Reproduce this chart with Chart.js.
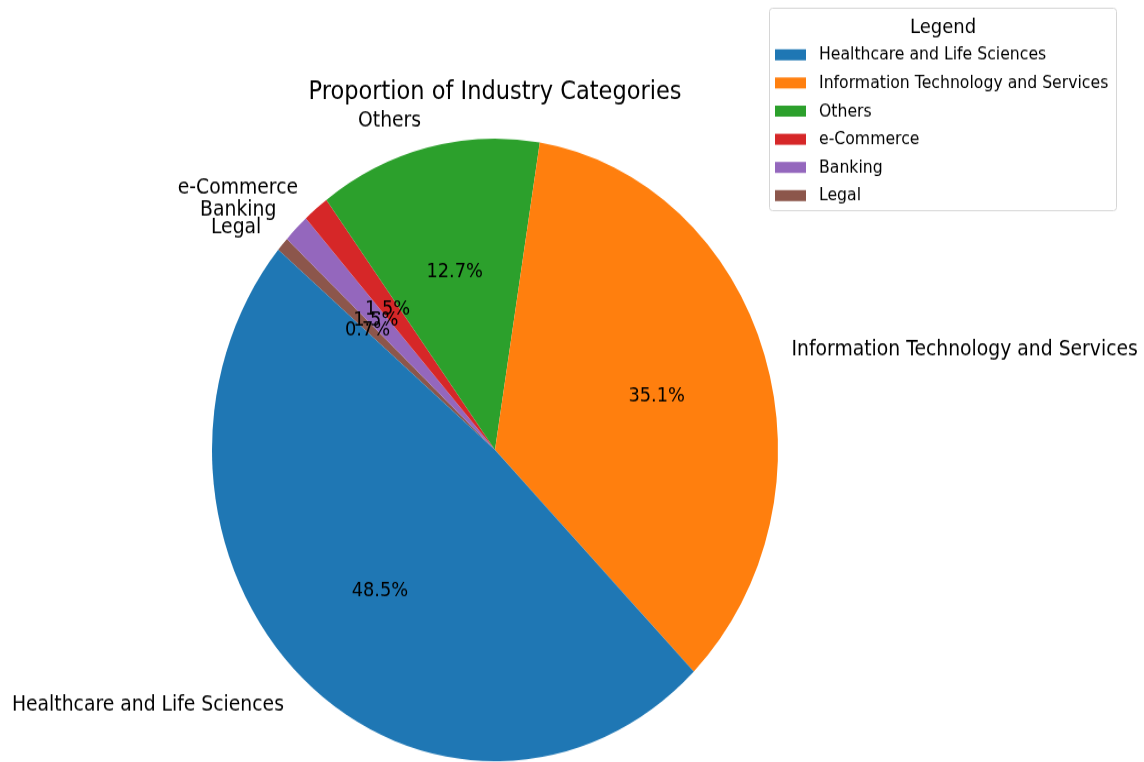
<!DOCTYPE html>
<html>
<head>
<meta charset="utf-8">
<title>Proportion of Industry Categories</title>
<script src="https://cdn.jsdelivr.net/npm/chart.js@4.4.1/dist/chart.umd.min.js"></script>
<style>
  html, body { margin: 0; padding: 0; background: #fff; }
  body { width: 1144px; height: 762px; overflow: hidden; }
  #wrap { width: 1144px; height: 693px; transform: scaleY(1.1); transform-origin: 0 0; }
</style>
</head>
<body>
<div id="wrap"><canvas id="pieChart" width="1144" height="693"></canvas></div>
<script>
// industry counts (legend order)
const industries = ['Healthcare and Life Sciences', 'Information Technology and Services', 'Others', 'e-Commerce', 'Banking', 'Legal'];
const counts = [65, 47, 17, 2, 2, 1];
const colors = ['#1f77b4', '#ff7f0e', '#2ca02c', '#d62728', '#9467bd', '#8c564b'];

const FONT = "'DejaVu Sans', sans-serif";
const total = counts.reduce((a, b) => a + b, 0);

// Chart.js goes clockwise, so feed the slices reversed to keep the
// counter-clockwise order starting from the upper left
const pieLabels = industries.slice().reverse();
const pieCounts = counts.slice().reverse();
const pieColors = colors.slice().reverse();

// small nudge so text sits visually centred on its anchor
const TEXT_DY = 3.6;

const sliceText = {
    id: 'sliceText',
    afterDatasetsDraw(chart) {
        const ctx = chart.ctx;
        const arcs = chart.getDatasetMeta(0).data;
        ctx.save();
        ctx.fillStyle = '#000';
        ctx.textBaseline = 'middle';
        arcs.forEach((arc, i) => {
            const mid = (arc.startAngle + arc.endAngle) / 2;
            const r = arc.outerRadius;
            // outer category name
            const lx = arc.x + Math.cos(mid) * r * 1.1;
            const ly = arc.y + Math.sin(mid) * r * 1.1;
            ctx.font = '18.8px ' + FONT;
            ctx.textAlign = lx < arc.x ? 'right' : 'left';
            ctx.fillText(pieLabels[i], lx, ly + TEXT_DY);
            // percentage inside
            const px = arc.x + Math.cos(mid) * r * 0.6;
            const py = arc.y + Math.sin(mid) * r * 0.6;
            ctx.font = '17.8px ' + FONT;
            ctx.textAlign = 'center';
            ctx.fillText((pieCounts[i] / total * 100).toFixed(1) + '%', px, py + TEXT_DY);
        });
        // title
        const c = arcs[0];
        ctx.font = '22.5px ' + FONT;
        ctx.textAlign = 'center';
        ctx.textBaseline = 'alphabetic';
        ctx.fillText('Proportion of Industry Categories', c.x, 90);
        ctx.restore();
    }
};

const boxLegend = {
    id: 'boxLegend',
    afterDraw(chart) {
        const ctx = chart.ctx;
        const x = 769.5, y = 7.5, w = 347, h = 184;
        ctx.save();
        ctx.beginPath();
        ctx.roundRect(x, y, w, h, 3);
        ctx.fillStyle = 'rgba(255,255,255,0.8)';
        ctx.fill();
        ctx.strokeStyle = '#d6d6d6';
        ctx.lineWidth = 1;
        ctx.stroke();
        ctx.fillStyle = '#000';
        ctx.font = '18px ' + FONT;
        ctx.textAlign = 'center';
        ctx.textBaseline = 'middle';
        ctx.fillText('Legend', 943, 25.5);
        ctx.font = '15.7px ' + FONT;
        ctx.textAlign = 'left';
        industries.forEach((name, i) => {
            const ry = 49.8 + i * 25.6;
            ctx.fillStyle = colors[i];
            ctx.fillRect(775, ry - 5, 31, 10);
            ctx.fillStyle = '#000';
            ctx.fillText(name, 819, ry + 0.5);
        });
        ctx.restore();
    }
};

new Chart(document.getElementById('pieChart'), {
    type: 'pie',
    data: {
        labels: pieLabels,
        datasets: [{
            data: pieCounts,
            backgroundColor: pieColors,
            borderWidth: 0
        }]
    },
    options: {
        responsive: false,
        animation: false,
        rotation: -50,
        layout: { padding: { left: 212, right: 366, top: 126, bottom: 1 } },
        plugins: {
            legend: { display: false },
            tooltip: { enabled: false }
        }
    },
    plugins: [sliceText, boxLegend]
});
</script>
</body>
</html>
